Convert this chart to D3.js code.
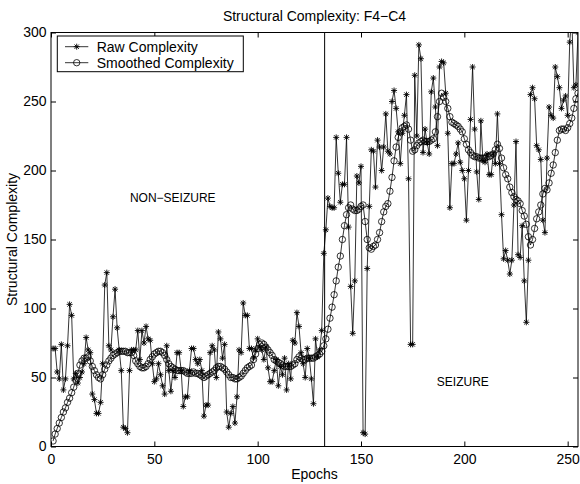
<!DOCTYPE html>
<html>
<head>
<meta charset="utf-8">
<script src="https://cdn.jsdelivr.net/npm/d3@7"></script>
<style>
  body { margin: 0; background: #fff; }
  svg { font-family: "Liberation Sans", Arial, Helvetica, sans-serif; }
</style>
</head>
<body>
<div id="chart"></div>
<script>
// values, epoch 1..255
const rawComplexity = [
  71, 71, 54, 49, 74, 41, 49, 73, 103, 95,
  49, 53, 46, 50, 54, 60, 79, 70, 68, 38,
  34, 24, 24, 32, 60, 117, 126, 73, 70, 94,
  114, 86, 70, 55, 14, 13, 10, 55, 70, 70,
  70, 84, 63, 84, 75, 87, 78, 77, 60, 47,
  49, 60, 52, 44, 38, 73, 55, 40, 55, 50,
  68, 68, 55, 29, 36, 36, 55, 71, 71, 63,
  60, 63, 55, 22, 30, 30, 68, 73, 70, 50,
  83, 78, 64, 74, 25, 14, 24, 29, 17, 36,
  70, 68, 104, 95, 95, 71, 71, 64, 70, 78,
  72, 70, 63, 72, 57, 47, 47, 55, 63, 44,
  58, 52, 64, 41, 60, 49, 77, 75, 97, 87,
  68, 60, 50, 71, 64, 49, 31, 78, 65, 70,
  84, 140, 157, 180, 174, 173, 173, 224, 198, 177,
  190, 190, 224, 159, 116, 82, 120, 196, 191, 203,
  10, 9, 129, 174, 215, 214, 188, 222, 217, 200,
  217, 241, 214, 212, 250, 258, 245, 228, 205, 227,
  240, 255, 194, 74, 74, 269, 225, 291, 281, 213,
  230, 220, 212, 257, 267, 246, 218, 275, 279, 278,
  256, 227, 173, 205, 205, 212, 220, 206, 200, 194,
  164, 200, 237, 275, 230, 199, 179, 236, 207, 206,
  212, 197, 197, 212, 205, 241, 205, 168, 136, 142,
  135, 125, 135, 175, 221, 139, 137, 160, 120, 90,
  135, 255, 260, 252, 218, 215, 208, 164, 155, 209,
  246, 240, 238, 275, 268, 260, 245, 251, 254, 240,
  293, 312, 260, 262, 300
]

const smoothedComplexity = [
  4, 9, 13, 17, 21, 25, 28, 32, 35, 39,
  43, 48, 53, 59, 62, 64, 64, 65, 62, 58,
  55, 52, 50, 49, 52, 56, 59, 62, 64, 66,
  67, 68, 69, 69, 69, 69, 68, 68, 68, 66,
  62, 60, 58, 57, 57, 58, 60, 63, 65, 67,
  68, 69, 69, 68, 66, 63, 60, 58, 57, 56,
  55, 55, 55, 55, 54, 53, 53, 53, 54, 53,
  53, 52, 51, 50, 51, 52, 53, 54, 55, 57,
  58, 58, 57, 56, 54, 52, 50, 50, 49, 49,
  50, 51, 53, 55, 57, 58, 59, 63, 67, 71,
  74, 75, 74, 72, 70, 68, 66, 63, 62, 61,
  60, 59, 58, 58, 58, 58, 59, 60, 63, 65,
  64, 63, 63, 64, 64, 64, 64, 65, 66, 67,
  69, 73, 78, 85, 93, 101, 110, 120, 130, 138,
  150, 160, 168, 173, 175, 172, 171, 171, 172, 174,
  175, 163, 150, 144, 143, 145, 146, 150, 155, 163,
  170, 174, 176, 185, 195, 207, 217, 224, 228, 231,
  232, 233, 230, 222, 214, 215, 218, 220, 221, 222,
  221, 221, 221, 222, 223, 228, 239, 250, 256, 253,
  250, 245, 239, 235, 234, 233, 232, 230, 228, 223,
  219, 215, 213, 211, 210, 210, 209, 209, 209, 209,
  210, 210, 211, 212, 215, 219, 216, 209, 202, 197,
  194, 188, 184, 181, 179, 178, 176, 171, 167, 161,
  152, 146, 150, 158, 165, 170, 175, 183, 187, 186,
  191, 198, 204, 213, 222, 229, 230, 230, 229, 231,
  234, 238, 245, 252, 256
]

const xTicks = [0, 50, 100, 150, 200, 250]
const yTicks = [0, 50, 100, 150, 200, 250, 300]
const seizureOnset = 132.4
const legendLabels = ["Raw Complexity", "Smoothed Complexity"]

const epochs = rawComplexity.map((_, i) => i + 1)

// -------------------

const width = 580
const height = 484
const margin = { top: 32.5, right: 2, bottom: 37.5, left: 51 }
const fontSize = 14

const x = d3.scaleLinear().domain([0, 255]).range([margin.left, width - margin.right])
const y = d3.scaleLinear().domain([0, 300]).range([height - margin.bottom, margin.top])

const svg = d3.select("#chart")
  .append("svg")
  .attr("width", width)
  .attr("height", height)

svg.append("defs").append("clipPath")
  .attr("id", "plot-clip")
  .append("rect")
  .attr("x", margin.left)
  .attr("y", margin.top)
  .attr("width", width - margin.left - margin.right)
  .attr("height", height - margin.top - margin.bottom)

// axes, matlab style: ticks inside on all four sides

const styleAxis = g => {
  g.attr("font-size", fontSize).attr("font-family", null)
  g.select(".domain").remove()
  g.selectAll(".tick line").attr("stroke", "#000").attr("stroke-width", 1)
  g.selectAll(".tick text").attr("fill", "#000")
}

svg.append("g")
  .attr("transform", `translate(0,${y(0)})`)
  .call(d3.axisBottom(x).tickValues(xTicks).tickSizeInner(-5).tickSizeOuter(0).tickPadding(7.5))
  .call(styleAxis)

svg.append("g")
  .attr("transform", `translate(0,${y(300)})`)
  .call(d3.axisTop(x).tickValues(xTicks).tickSizeInner(-5).tickSizeOuter(0).tickFormat(""))
  .call(styleAxis)

svg.append("g")
  .attr("transform", `translate(${x(0)},0)`)
  .call(d3.axisLeft(y).tickValues(yTicks).tickSizeInner(-5).tickSizeOuter(0).tickPadding(4.5))
  .call(styleAxis)

svg.append("g")
  .attr("transform", `translate(${x(255)},0)`)
  .call(d3.axisRight(y).tickValues(yTicks).tickSizeInner(-5).tickSizeOuter(0).tickFormat(""))
  .call(styleAxis)

svg.append("rect")
  .attr("x", x(0))
  .attr("y", y(300))
  .attr("width", x(255) - x(0))
  .attr("height", y(0) - y(300))
  .attr("fill", "none")
  .attr("stroke", "#000")
  .attr("stroke-width", 1)

// seizure onset marker

svg.append("line")
  .attr("x1", x(seizureOnset))
  .attr("x2", x(seizureOnset))
  .attr("y1", y(0))
  .attr("y2", y(300))
  .attr("stroke", "#000")
  .attr("stroke-width", 1)

// series

const starPath = "M-3,0H3M0,-3V3M-2.2,-2.2L2.2,2.2M-2.2,2.2L2.2,-2.2"

const line = d3.line()
  .x(d => x(d[0]))
  .y(d => y(d[1]))

const plot = svg.append("g").attr("clip-path", "url(#plot-clip)")

const rawData = epochs.map((e, i) => [e, rawComplexity[i]])
const smoothData = epochs.map((e, i) => [e, smoothedComplexity[i]])

plot.append("path")
  .datum(rawData)
  .attr("d", line)
  .attr("fill", "none")
  .attr("stroke", "#000")
  .attr("stroke-width", 0.8)

plot.append("path")
  .datum(smoothData)
  .attr("d", line)
  .attr("fill", "none")
  .attr("stroke", "#000")
  .attr("stroke-width", 0.8)

plot.append("g")
  .selectAll("path")
  .data(rawData)
  .join("path")
  .attr("transform", d => `translate(${x(d[0])},${y(d[1])})`)
  .attr("d", starPath)
  .attr("fill", "none")
  .attr("stroke", "#000")
  .attr("stroke-width", 0.9)

plot.append("g")
  .selectAll("circle")
  .data(smoothData)
  .join("circle")
  .attr("cx", d => x(d[0]))
  .attr("cy", d => y(d[1]))
  .attr("r", 3.2)
  .attr("fill", "none")
  .attr("stroke", "#000")
  .attr("stroke-width", 0.8)

// annotations

svg.append("text")
  .attr("x", x(38.2))
  .attr("y", y(180))
  .attr("dy", "0.35em")
  .attr("font-size", 12)
  .text("NON\u2212SEIZURE")

svg.append("text")
  .attr("x", x(186.7))
  .attr("y", y(47))
  .attr("dy", "0.35em")
  .attr("font-size", 12)
  .text("SEIZURE")

// titles

svg.append("text")
  .attr("x", (x(0) + x(255)) / 2)
  .attr("y", 20.5)
  .attr("text-anchor", "middle")
  .attr("font-size", fontSize)
  .text("Structural Complexity: F4\u2212C4")

svg.append("text")
  .attr("x", (x(0) + x(255)) / 2)
  .attr("y", 479)
  .attr("text-anchor", "middle")
  .attr("font-size", fontSize)
  .text("Epochs")

svg.append("text")
  .attr("transform", `translate(17,${(y(0) + y(300)) / 2}) rotate(-90)`)
  .attr("text-anchor", "middle")
  .attr("font-size", fontSize)
  .text("Structural Complexity")

// legend

const legend = svg.append("g")

legend.append("rect")
  .attr("x", 57.3)
  .attr("y", 36)
  .attr("width", 186)
  .attr("height", 35.7)
  .attr("fill", "#fff")
  .attr("stroke", "#000")
  .attr("stroke-width", 1)

legendLabels.forEach((label, i) => {
  const ly = 46.7 + i * 16
  legend.append("line")
    .attr("x1", 65).attr("x2", 88.3)
    .attr("y1", ly).attr("y2", ly)
    .attr("stroke", "#000")
    .attr("stroke-width", 0.8)
  if (i === 0) {
    legend.append("path")
      .attr("transform", `translate(76.7,${ly})`)
      .attr("d", starPath)
      .attr("fill", "none")
      .attr("stroke", "#000")
      .attr("stroke-width", 0.9)
  } else {
    legend.append("circle")
      .attr("cx", 76.7).attr("cy", ly).attr("r", 3.2)
      .attr("fill", "none")
      .attr("stroke", "#000")
      .attr("stroke-width", 0.8)
  }
  legend.append("text")
    .attr("x", 96.7)
    .attr("y", ly)
    .attr("dy", "0.35em")
    .attr("font-size", fontSize)
    .text(label)
})
</script>
</body>
</html>
